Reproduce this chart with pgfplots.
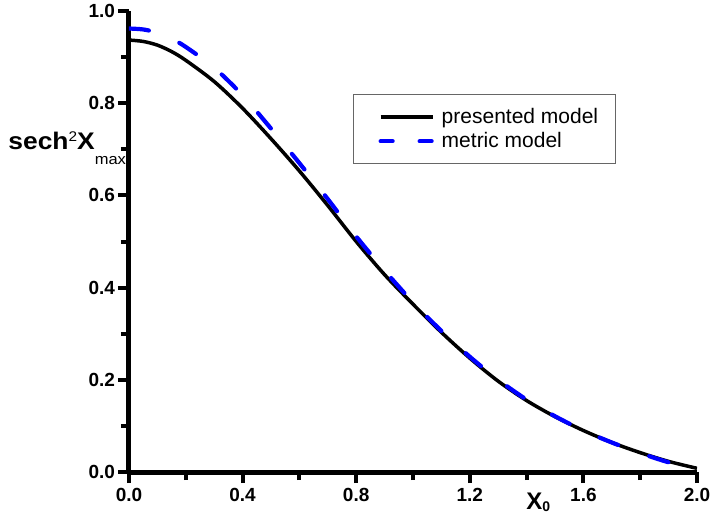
\documentclass[border=0pt]{standalone}
\usepackage{fontspec}
\setmainfont{Liberation Sans}
\usepackage{pgfplots}
\pgfplotsset{compat=1.18}
\begin{document}
\begin{tikzpicture}
\begin{axis}[
  scale only axis,
  width=284pt, height=230.5pt,
  xmin=0, xmax=2, ymin=0, ymax=1,
  axis x line*=bottom, axis y line*=left,
  axis line style={line width=2.5pt},
  xtick={0,0.4,0.8,1.2,1.6,2.0},
  ytick={0,0.2,0.4,0.6,0.8,1.0},
  minor x tick num=1, minor y tick num=1,
  tick align=outside,
  major tick length=5.5pt, minor tick length=4pt,
  tick style={line width=2pt, black},
  /pgf/number format/assume math mode=true,
  /pgf/number format/.cd, fixed, fixed zerofill, precision=1, /pgfplots/.cd,
  ticklabel style={font=\bfseries\fontsize{9.5}{11}\selectfont},
  yticklabel style={xshift=2pt},
  xticklabel style={yshift=1pt},
  every axis x label/.style={at={(axis description cs:0.699,0)}, anchor=north west, yshift=-10.5pt, inner sep=0pt},
  every axis y label/.style={at={(axis description cs:-0.213,0.6985)}, anchor=base west, inner sep=0pt, rotate=0},
  xlabel={\fontsize{12}{12}\selectfont\bfseries X\raisebox{-1pt}{\fontsize{7}{7}\selectfont 0}},
  ylabel={\scalebox{1.1}[1]{\fontsize{12}{12}\selectfont\bfseries sech\raisebox{4pt}{\fontsize{7}{7}\selectfont\mdseries 2}X\raisebox{-7.5pt}{\fontsize{7.5}{7.5}\selectfont\mdseries max}}},
  legend cell align=left,
  legend style={at={(axis description cs:0.394,0.820)}, anchor=north west,
    draw=black!60, line width=0.75pt, fill=white,
    inner xsep=0pt, inner ysep=5.25pt, column sep=3.5pt,
    font=\fontsize{10.5}{12}\selectfont,
    nodes={inner sep=0pt, text height=9pt, text depth=3pt}},
  legend image code/.code={\path (0pt,0pt); \draw[#1] (12.5pt,0pt) -- (38.5pt,0pt);},
]
\addplot[black, line width=1.75pt, smooth] coordinates {
(0.0,0.937) (0.05,0.934) (0.1,0.926) (0.15,0.912) (0.2,0.893) (0.3,0.847) (0.4,0.789) (0.5,0.723)
(0.6,0.653) (0.7,0.578) (0.8,0.500) (0.9,0.428) (1.0,0.364) (1.1,0.303)
(1.2,0.247) (1.3,0.197) (1.4,0.155) (1.5,0.120) (1.6,0.090) (1.7,0.064)
(1.8,0.042) (1.9,0.023) (2.0,0.008)};
\addlegendentry{\makebox[87pt][l]{presented model}}
\addplot[blue, line width=2.1pt, smooth, line cap=round, dash pattern=on 10pt off 16.5pt, forget plot] coordinates {
(0.0,0.962) (0.05,0.960) (0.1,0.953) (0.15,0.940) (0.2,0.922) (0.3,0.877) (0.4,0.817) (0.5,0.745)
(0.6,0.670) (0.7,0.592) (0.8,0.511) (0.9,0.437) (1.0,0.368) (1.1,0.306)
(1.2,0.250) (1.3,0.200) (1.4,0.157) (1.5,0.121) (1.6,0.090) (1.7,0.064)
(1.8,0.041) (1.9,0.021) (2.0,0.005)};
\addlegendimage{blue, line width=2.1pt, line cap=round, dash pattern=on 6pt off 13.5pt}
\addlegendentry{\makebox[87pt][l]{metric model}}
\end{axis}
\pgfresetboundingbox
\path[use as bounding box] (-64.5pt,-27.5pt) rectangle (291pt,236pt);
\end{tikzpicture}
\end{document}
